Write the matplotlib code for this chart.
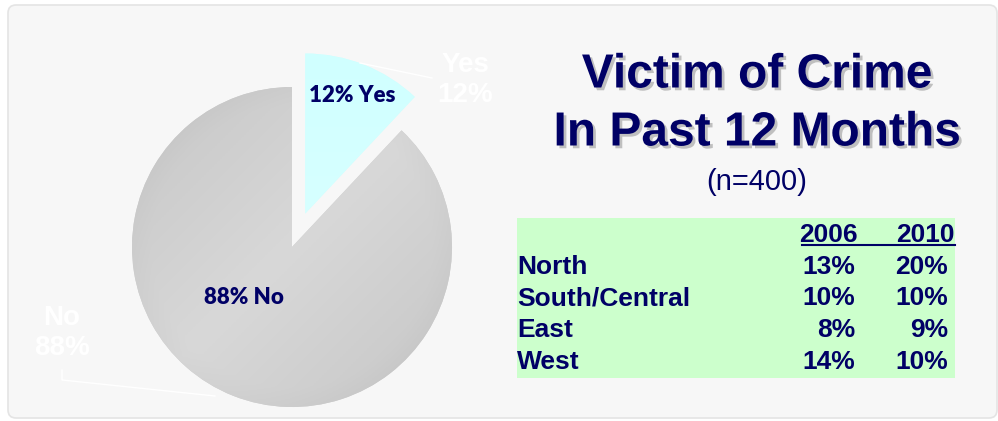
import numpy as np
import matplotlib.pyplot as plt
from matplotlib.patches import FancyBboxPatch, Rectangle
from matplotlib.colors import LinearSegmentedColormap
import matplotlib.patheffects as pe

# data
pie_labels = ['Yes', 'No']
pie_values = [12, 88]
regions = ['North', 'South/Central', 'East', 'West']
pct_2006 = ['13%', '10%', '8%', '14%']
pct_2010 = ['20%', '10%', '9%', '10%']
years = ['2006', '2010']

W, H = 998, 421
navy = '#000066'

fig = plt.figure(figsize=(W / 100, H / 100), dpi=100)
ax = fig.add_axes([0, 0, 1, 1])

# panel
panel = FancyBboxPatch((8, 3), 989, 413, boxstyle='round,pad=0,rounding_size=8',
                       facecolor='#f7f7f7', edgecolor='#e4e4e4', lw=1.2, zorder=0)
ax.add_patch(panel)

# pie (explode is in data units here)
cx, cy, r = 292, H - 247, 160
wedges, _ = ax.pie(pie_values, startangle=90, counterclock=False, explode=[36, 0],
                   center=(cx, cy), radius=r, colors=['#d6ffff', '#d0d0d0'],
                   wedgeprops=dict(lw=0), frame=True)
ax.set_xlim(0, W)
ax.set_ylim(0, H)
ax.set_aspect('equal')
ax.axis('off')

# gradient fills
gx, gy = np.meshgrid(np.linspace(0, 1, 200), np.linspace(0, 1, 200))
diag = (gx + (1 - gy)) / 2          # 0 at top-left, 1 at bottom-right
grad_no = 1 - np.abs(diag - 0.5) * 2
rr = np.hypot(gx - 0.5, gy - 0.5) * 2
grad_no = grad_no - 0.15 * np.clip(rr - 0.88, 0, None) / 0.12
img = ax.imshow(grad_no, cmap=LinearSegmentedColormap.from_list('g', ['#c6c6c6', '#d8d8d8']),
                extent=(cx - r, cx + r, cy - r, cy + r), origin='lower', zorder=1.5,
                aspect='auto', vmin=0, vmax=1)
img.set_clip_path(wedges[1])
img2 = ax.imshow(gy, cmap=LinearSegmentedColormap.from_list('c', ['#ddffff', '#d0ffff']),
                 extent=(cx - r + 13, cx + r + 13, cy - r + 34, cy + r + 34),
                 origin='lower', zorder=1.5, aspect='auto')
img2.set_clip_path(wedges[0])

# inside labels
ax.text(352, H - 96, f'{pie_values[0]}% {pie_labels[0]}', color=navy, fontsize=16,
        fontweight='heavy', family='Lato', ha='center', va='center', zorder=3)
ax.text(244, H - 298, f'{pie_values[1]}% {pie_labels[1]}', color=navy, fontsize=16,
        fontweight='heavy', family='Lato', ha='center', va='center', zorder=3)

# outside (white) labels with leaders
ax.text(465, H - 80, f'{pie_labels[0]}\n{pie_values[0]}%', color='white', fontsize=20,
        fontweight='bold', family='Liberation Sans', ha='center', va='center', zorder=3)
ax.plot([360, 432], [H - 63, H - 78], color='white', lw=1, zorder=3)
ax.text(62, H - 333, f'{pie_labels[1]}\n{pie_values[1]}%', color='white', fontsize=20,
        fontweight='bold', family='Liberation Sans', ha='center', va='center', zorder=3)
ax.plot([62, 62, 215], [H - 370, H - 380, H - 396], color='white', lw=1, zorder=3)

# title
shadow = [pe.withSimplePatchShadow(offset=(2, -2), shadow_rgbFace='#888888', alpha=0.5)]
ax.text(757, H - 75, 'Victim of Crime', color=navy, fontsize=34.5, fontweight='bold',
        family='Liberation Sans', ha='center', va='center', path_effects=shadow)
ax.text(757, H - 133, 'In Past 12 Months', color=navy, fontsize=34.5, fontweight='bold',
        family='Liberation Sans', ha='center', va='center', path_effects=shadow)
ax.text(757, H - 182, '(n=400)', color=navy, fontsize=21,
        family='Liberation Sans', ha='center', va='center')

# table
ax.add_patch(Rectangle((517, H - 378), 438, 160, facecolor='#ccffcc', edgecolor='none', zorder=1))
tkw = dict(color=navy, fontsize=19, fontweight='bold', family='Liberation Sans',
           va='center', zorder=3)
ax.text(858, H - 235, years[0], ha='right', **tkw)
ax.text(955, H - 235, years[1], ha='right', **tkw)
ax.plot([802, 955], [H - 245, H - 245], color=navy, lw=1.5, zorder=3)
row_y = [267, 298, 330, 362]
for reg, a, b, y in zip(regions, pct_2006, pct_2010, row_y):
    ax.text(517, H - y, reg, ha='left', **tkw)
    ax.text(855, H - y, a, ha='right', **tkw)
    ax.text(948, H - y, b, ha='right', **tkw)

fig.savefig('out.png', dpi=100, facecolor='white')
